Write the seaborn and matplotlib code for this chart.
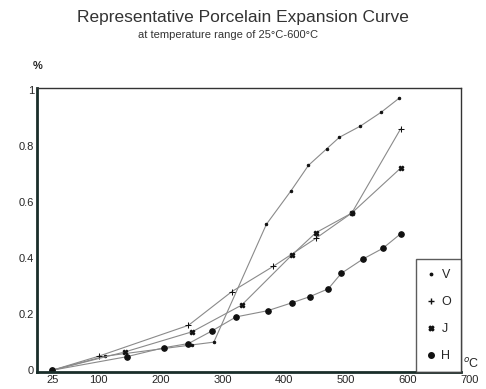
import pandas as pd
import matplotlib.pyplot as plt
import seaborn as sns
from matplotlib.lines import Line2D

# data (temperature in C, expansion in %)
v_temp = [25, 110, 250, 286, 371, 411, 439, 469, 489, 523, 557, 586]
v_exp = [0, 0.05, 0.09, 0.10, 0.52, 0.64, 0.73, 0.79, 0.83, 0.87, 0.92, 0.97]

o_temp = [25, 100, 245, 315, 382, 451, 509, 588]
o_exp = [0, 0.05, 0.16, 0.28, 0.37, 0.47, 0.56, 0.86]

j_temp = [25, 142, 251, 331, 412, 451, 509, 588]
j_exp = [0, 0.065, 0.137, 0.232, 0.41, 0.49, 0.56, 0.72]

h_temp = [25, 145, 205, 245, 283, 322, 373, 412, 441, 471, 492, 527, 559, 588]
h_exp = [0, 0.048, 0.08, 0.095, 0.14, 0.19, 0.212, 0.24, 0.262, 0.29, 0.345, 0.396, 0.434, 0.486]

series = ['V', 'O', 'J', 'H']
x_ticks = [25, 100, 200, 300, 400, 500, 600]
y_ticks = [0, 0.2, 0.4, 0.6, 0.8, 1]

df = pd.concat([
    pd.DataFrame({'Temp': v_temp, 'Exp': v_exp, 'Series': 'V'}),
    pd.DataFrame({'Temp': o_temp, 'Exp': o_exp, 'Series': 'O'}),
    pd.DataFrame({'Temp': j_temp, 'Exp': j_exp, 'Series': 'J'}),
    pd.DataFrame({'Temp': h_temp, 'Exp': h_exp, 'Series': 'H'}),
])

sns.set_style('white')
plt.rcParams['font.family'] = ['Liberation Sans', 'DejaVu Sans']

marker_map = {'V': '.', 'O': '+', 'J': 'X', 'H': 'o'}
size_map = {'V': 3.5, 'O': 5, 'J': 3.5, 'H': 4}

fig = plt.figure(figsize=(4.86, 3.89), dpi=100)
ax = fig.add_axes([0.076, 0.044, 0.873, 0.730])

for s in series:
    sns.lineplot(data=df[df['Series'] == s], x='Temp', y='Exp', ax=ax,
                 color='#8a8a8a', linewidth=0.8, marker=marker_map[s],
                 markersize=size_map[s], mfc='#111111', mec='#111111',
                 legend=False)

ax.set_xlim(0, 686)
ax.set_ylim(-0.006, 1.006)
ax.set_xticks(x_ticks)
ax.set_xticklabels([str(t) for t in x_ticks])
ax.set_yticks(y_ticks)
ax.set_yticklabels(['0', '0.2', '0.4', '0.6', '0.8', '1'])
ax.tick_params(axis='both', length=0, labelsize=8, pad=2)
ax.set_xlabel('')
ax.set_ylabel('')

for side in ['left', 'bottom']:
    ax.spines[side].set_linewidth(2)
    ax.spines[side].set_color('#1a2e2a')
for side in ['top', 'right']:
    ax.spines[side].set_linewidth(1)
    ax.spines[side].set_color('#333333')

ax.text(700, -0.012, '700', transform=ax.get_xaxis_transform(), ha='center',
        va='top', fontsize=8, clip_on=False)
ax.text(1.005, 0.005, '$^o$C', transform=ax.transAxes, ha='left', va='bottom',
        fontsize=9)
ax.text(-0.01, 1.06, '%', transform=ax.transAxes, ha='left', va='bottom',
        fontsize=8, fontweight='bold')

fig.text(0.5, 0.955, 'Representative Porcelain Expansion Curve', ha='center',
         va='center', fontsize=12.5, color='#333333')
fig.text(0.47, 0.91, 'at temperature range of 25\u00b0C-600\u00b0C', ha='center',
         va='center', fontsize=8, color='#333333')

handles = [Line2D([], [], linestyle='none', marker=marker_map[s],
                  markersize=size_map[s], color='#111111') for s in series]
leg = ax.legend(handles, series, loc='lower right', frameon=True, fancybox=False,
                fontsize=9, handlelength=0.8, handletextpad=0.4,
                borderaxespad=0, labelspacing=1.2, borderpad=0.8)
leg.get_frame().set_edgecolor('#333333')
leg.get_frame().set_linewidth(1)

plt.savefig('out.png', dpi=100)
